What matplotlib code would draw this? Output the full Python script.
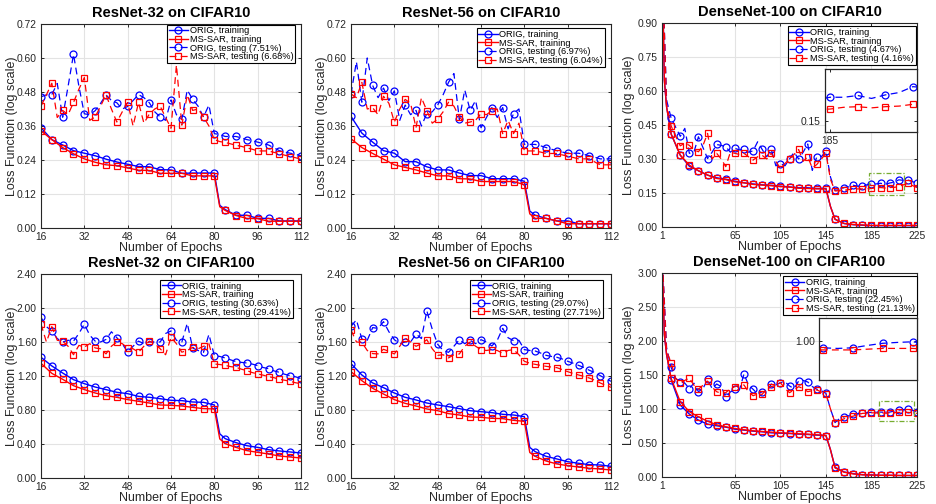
import numpy as np
import matplotlib.pyplot as plt
from matplotlib.patches import Rectangle

plt.rcParams['font.family'] = ['Liberation Sans', 'DejaVu Sans']

# ---------------- epochs ----------------
res_epochs = np.arange(16, 113, 4)        # ResNet marker epochs
res_mid_epochs = np.arange(18, 111, 4)    # between markers (testing curves)
res_drop_epochs = [82]                    # learning-rate drop
dense_epochs = np.arange(1, 226, 8)       # DenseNet marker epochs
dense_mid_epochs = np.arange(5, 222, 8)
dense_extra_epochs = [3, 5, 149]

# ---------------- ResNet-32 / CIFAR10 ----------------
r32c10_orig_train = [0.354, 0.312, 0.293, 0.273, 0.264, 0.255, 0.243, 0.233, 0.225, 0.217, 0.216, 0.206, 0.205,
                     0.193, 0.194, 0.194, 0.194, 0.065, 0.045, 0.045, 0.034, 0.034, 0.025, 0.025, 0.025]
r32c10_sar_train = [0.343, 0.312, 0.284, 0.262, 0.244, 0.232, 0.223, 0.220, 0.212, 0.204, 0.203, 0.193, 0.193,
                    0.193, 0.184, 0.184, 0.184, 0.062, 0.044, 0.034, 0.033, 0.024, 0.024, 0.024, 0.024]
r32c10_drop = [[0.080], [0.075]]
r32c10_orig_test = [0.463, 0.471, 0.391, 0.613, 0.403, 0.414, 0.470, 0.442, 0.429, 0.471, 0.442, 0.392, 0.452,
                    0.384, 0.454, 0.392, 0.333, 0.323, 0.323, 0.312, 0.303, 0.293, 0.273, 0.264, 0.255]
r32c10_orig_test_mid = [0.47, 0.51, 0.50, 0.50, 0.40, 0.44, 0.45, 0.42, 0.45, 0.46, 0.41, 0.38, 0.40, 0.487,
                        0.43, 0.434, 0.33, 0.323, 0.318, 0.308, 0.298, 0.283, 0.268, 0.26]
r32c10_sar_test = [0.430, 0.511, 0.415, 0.443, 0.531, 0.392, 0.470, 0.374, 0.443, 0.443, 0.402, 0.430, 0.352,
                   0.363, 0.415, 0.392, 0.312, 0.302, 0.292, 0.283, 0.272, 0.272, 0.262, 0.252, 0.243]
r32c10_sar_test_mid = [0.47, 0.39, 0.40, 0.49, 0.38, 0.43, 0.42, 0.41, 0.36, 0.37, 0.42, 0.39, 0.575, 0.47,
                       0.42, 0.36, 0.305, 0.297, 0.288, 0.278, 0.272, 0.267, 0.257, 0.248]

# ---------------- ResNet-56 / CIFAR10 ----------------
r56c10_orig_train = [0.394, 0.335, 0.303, 0.273, 0.264, 0.234, 0.234, 0.216, 0.205, 0.205, 0.194, 0.185, 0.185,
                     0.174, 0.174, 0.174, 0.165, 0.045, 0.034, 0.025, 0.025, 0.015, 0.015, 0.015, 0.015]
r56c10_sar_train = [0.315, 0.284, 0.263, 0.243, 0.223, 0.214, 0.205, 0.194, 0.184, 0.184, 0.174, 0.173, 0.164,
                    0.164, 0.164, 0.164, 0.153, 0.034, 0.034, 0.025, 0.015, 0.015, 0.015, 0.015, 0.015]
r56c10_drop = [[0.060], [0.050]]
r56c10_orig_test = [0.473, 0.444, 0.503, 0.494, 0.484, 0.434, 0.415, 0.404, 0.434, 0.514, 0.383, 0.415, 0.354,
                    0.425, 0.425, 0.404, 0.295, 0.295, 0.284, 0.273, 0.264, 0.264, 0.255, 0.244, 0.244]
r56c10_orig_test_mid = [0.587, 0.60, 0.46, 0.45, 0.38, 0.40, 0.36, 0.41, 0.47, 0.545, 0.487, 0.45, 0.39, 0.39,
                        0.35, 0.42, 0.295, 0.29, 0.278, 0.268, 0.264, 0.26, 0.25, 0.244]
r56c10_sar_test = [0.473, 0.514, 0.424, 0.465, 0.374, 0.454, 0.354, 0.414, 0.384, 0.444, 0.392, 0.374, 0.404,
                   0.414, 0.333, 0.333, 0.272, 0.272, 0.263, 0.263, 0.253, 0.244, 0.244, 0.223, 0.223]
r56c10_sar_test_mid = [0.46, 0.42, 0.40, 0.44, 0.42, 0.44, 0.46, 0.37, 0.41, 0.43, 0.37, 0.38, 0.40, 0.42,
                       0.38, 0.37, 0.272, 0.268, 0.263, 0.258, 0.249, 0.244, 0.233, 0.223]

# ---------------- DenseNet-100 / CIFAR10 ----------------
d100c10_orig_train = [1.20, 0.410, 0.317, 0.268, 0.248, 0.229, 0.217, 0.211, 0.202, 0.195, 0.190, 0.186, 0.184,
                      0.180, 0.177, 0.173, 0.173, 0.170, 0.170, 0.034, 0.015, 0.010, 0.008, 0.006, 0.006, 0.006,
                      0.006, 0.006, 0.006]
d100c10_sar_train = [1.20, 0.410, 0.317, 0.273, 0.248, 0.229, 0.214, 0.209, 0.199, 0.195, 0.188, 0.185, 0.182,
                     0.178, 0.176, 0.171, 0.170, 0.168, 0.168, 0.034, 0.016, 0.011, 0.009, 0.007, 0.007, 0.007,
                     0.007, 0.007, 0.007]
d100c10_extra = [[0.65, 0.53, 0.09], [0.65, 0.53, 0.09]]
d100c10_orig_test = [1.20, 0.48, 0.40, 0.325, 0.398, 0.302, 0.364, 0.354, 0.347, 0.342, 0.336, 0.342, 0.342,
                     0.28, 0.30, 0.30, 0.366, 0.31, 0.335, 0.162, 0.174, 0.184, 0.181, 0.190, 0.193, 0.194,
                     0.208, 0.207, 0.193]
d100c10_orig_test_mid = [0.56, 0.44, 0.435, 0.33, 0.35, 0.33, 0.36, 0.33, 0.34, 0.33, 0.376, 0.31, 0.27, 0.27,
                         0.33, 0.33, 0.25, 0.31, 0.22, 0.165, 0.178, 0.18, 0.186, 0.19, 0.188, 0.198, 0.206, 0.20]
d100c10_sar_test = [1.20, 0.446, 0.358, 0.36, 0.332, 0.413, 0.325, 0.266, 0.325, 0.325, 0.295, 0.316, 0.325,
                    0.258, 0.30, 0.342, 0.31, 0.276, 0.325, 0.159, 0.162, 0.167, 0.168, 0.170, 0.174, 0.174,
                    0.178, 0.192, 0.174]
d100c10_sar_test_mid = [0.54, 0.40, 0.37, 0.34, 0.36, 0.30, 0.30, 0.33, 0.32, 0.31, 0.31, 0.30, 0.29, 0.28,
                        0.32, 0.29, 0.26, 0.30, 0.21, 0.16, 0.165, 0.168, 0.169, 0.173, 0.172, 0.175, 0.186, 0.183]

# ---------------- ResNet-32 / CIFAR100 ----------------
r32c100_orig_train = [1.42, 1.318, 1.235, 1.157, 1.11, 1.07, 1.04, 1.008, 0.992, 0.96, 0.949, 0.933, 0.914,
                      0.91, 0.894, 0.89, 0.859, 0.463, 0.416, 0.38, 0.36, 0.333, 0.318, 0.306, 0.294]
r32c100_sar_train = [1.349, 1.231, 1.161, 1.086, 1.04, 1.0, 0.969, 0.949, 0.922, 0.902, 0.882, 0.859, 0.855,
                     0.847, 0.831, 0.816, 0.812, 0.404, 0.36, 0.322, 0.302, 0.282, 0.259, 0.247, 0.235]
r32c100_drop = [[0.52], [0.46]]
r32c100_orig_test = [1.89, 1.73, 1.60, 1.61, 1.81, 1.61, 1.63, 1.65, 1.48, 1.61, 1.60, 1.60, 1.73, 1.60, 1.529,
                     1.478, 1.439, 1.412, 1.369, 1.353, 1.322, 1.286, 1.243, 1.204, 1.169]
r32c100_orig_test_mid = [1.78, 1.64, 1.62, 1.70, 1.68, 1.60, 1.72, 1.58, 1.55, 1.58, 1.60, 1.70, 1.62, 1.82,
                         1.50, 1.69, 1.43, 1.39, 1.36, 1.34, 1.30, 1.26, 1.22, 1.19]
r32c100_sar_test = [1.81, 1.78, 1.61, 1.45, 1.54, 1.53, 1.46, 1.60, 1.53, 1.48, 1.61, 1.52, 1.655, 1.48, 1.537,
                    1.549, 1.341, 1.325, 1.302, 1.263, 1.224, 1.192, 1.161, 1.137, 1.11]
r32c100_sar_test_mid = [1.60, 1.62, 1.55, 1.56, 1.58, 1.52, 1.55, 1.58, 1.52, 1.55, 1.58, 1.45, 1.58, 1.50,
                        1.52, 1.58, 1.335, 1.31, 1.28, 1.24, 1.21, 1.18, 1.15, 1.12]

# ---------------- ResNet-56 / CIFAR100 ----------------
r56c100_orig_train = [1.345, 1.212, 1.118, 1.063, 1.0, 0.949, 0.918, 0.882, 0.859, 0.839, 0.816, 0.792, 0.78,
                      0.769, 0.749, 0.741, 0.722, 0.31, 0.255, 0.224, 0.192, 0.173, 0.157, 0.153, 0.137]
r56c100_sar_train = [1.251, 1.145, 1.055, 0.988, 0.922, 0.878, 0.847, 0.812, 0.792, 0.757, 0.741, 0.718, 0.714,
                     0.702, 0.698, 0.678, 0.667, 0.255, 0.2, 0.165, 0.145, 0.129, 0.114, 0.106, 0.094]
r56c100_drop = [[0.36], [0.30]]
r56c100_orig_test = [1.784, 1.635, 1.769, 1.839, 1.627, 1.60, 1.694, 1.965, 1.573, 1.478, 1.627, 1.62, 1.627,
                     1.553, 1.761, 1.616, 1.51, 1.494, 1.443, 1.42, 1.373, 1.325, 1.267, 1.204, 1.137]
r56c100_orig_test_mid = [1.86, 1.62, 1.76, 1.72, 1.58, 1.60, 1.64, 1.75, 1.50, 1.55, 1.58, 1.58, 1.60, 1.62,
                         1.65, 1.62, 1.50, 1.47, 1.43, 1.40, 1.35, 1.30, 1.24, 1.17]
r56c100_sar_test = [1.741, 1.596, 1.463, 1.514, 1.459, 1.647, 1.549, 1.627, 1.443, 1.412, 1.459, 1.60, 1.51,
                    1.51, 1.467, 1.51, 1.373, 1.337, 1.314, 1.298, 1.251, 1.212, 1.176, 1.118, 1.067]
r56c100_sar_test_mid = [1.60, 1.50, 1.46, 1.49, 1.55, 1.60, 1.58, 1.52, 1.45, 1.45, 1.55, 1.55, 1.50, 1.50,
                        1.50, 1.45, 1.35, 1.325, 1.305, 1.275, 1.23, 1.195, 1.15, 1.09]

# ---------------- DenseNet-100 / CIFAR100 ----------------
d100c100_orig_train = [3.3, 1.43, 1.058, 0.925, 0.836, 0.777, 0.753, 0.733, 0.703, 0.689, 0.674, 0.664, 0.649,
                       0.644, 0.639, 0.63, 0.625, 0.615, 0.61, 0.143, 0.074, 0.049, 0.034, 0.030, 0.025, 0.025,
                       0.022, 0.022, 0.022]
d100c100_sar_train = [3.3, 1.45, 1.107, 0.96, 0.885, 0.82, 0.767, 0.738, 0.713, 0.694, 0.679, 0.669, 0.659,
                      0.649, 0.644, 0.635, 0.63, 0.62, 0.61, 0.133, 0.07, 0.045, 0.032, 0.028, 0.025, 0.025,
                      0.022, 0.022, 0.022]
d100c100_extra = [[2.1, 1.8, 0.40], [2.1, 1.8, 0.40]]
d100c100_orig_test = [3.3, 1.61, 1.40, 1.30, 1.254, 1.436, 1.367, 1.18, 1.29, 1.515, 1.29, 1.254, 1.367, 1.387,
                      1.338, 1.41, 1.397, 1.29, 1.23, 0.80, 0.885, 0.92, 0.944, 0.95, 0.954, 0.954, 0.984,
                      0.994, 0.96]
d100c100_orig_test_mid = [1.9, 1.45, 1.38, 1.38, 1.30, 1.30, 1.33, 1.25, 1.28, 1.35, 1.22, 1.25, 1.35, 1.40,
                          1.30, 1.42, 1.33, 1.27, 1.0, 0.86, 0.90, 0.93, 0.945, 0.952, 0.95, 0.97, 0.99, 0.98]
d100c100_sar_test = [3.3, 1.68, 1.387, 1.455, 1.29, 1.41, 1.254, 1.24, 1.328, 1.353, 1.195, 1.215, 1.328,
                     1.387, 1.24, 1.328, 1.254, 1.28, 1.22, 0.80, 0.856, 0.895, 0.935, 0.944, 0.94, 0.94,
                     0.95, 0.95, 0.935]
d100c100_sar_test_mid = [1.85, 1.45, 1.42, 1.35, 1.35, 1.32, 1.23, 1.30, 1.35, 1.25, 1.22, 1.30, 1.35, 1.30,
                         1.28, 1.30, 1.27, 1.25, 1.0, 0.83, 0.88, 0.915, 0.94, 0.942, 0.94, 0.945, 0.95, 0.945]

BLUE = (0, 0, 1)
RED = (1, 0, 0)
DARK = '#262626'


def merge(ep_a, val_a, ep_b, val_b):
    x = np.concatenate([ep_a, ep_b]).astype(float)
    y = np.concatenate([val_a, val_b]).astype(float)
    order = np.argsort(x, kind='stable')
    x, y = x[order], y[order]
    marks = list(np.where(np.isin(x, ep_a))[0])
    return x, y, marks


def style_axes(ax, xlim, xticks, ylim, yticks):
    ax.set_xlim(*xlim)
    ax.set_ylim(*ylim)
    ax.set_xticks(xticks)
    ax.set_yticks(yticks)
    ax.set_yticklabels(['%.2f' % v for v in yticks])
    ax.grid(True, color='#e3e3e3', lw=0.8)
    ax.set_axisbelow(True)
    ax.tick_params(direction='in', top=True, right=True, length=2.5, width=0.7,
                   labelsize=7.4, colors=DARK, pad=3)
    for s in ax.spines.values():
        s.set_color(DARK)
        s.set_linewidth(0.8)


def draw_tests(ax, tests):
    for (x, y, m), col, mk, lab in tests:
        ax.plot(x, y, color=col, ls=(0, (5.5, 3.5)), lw=0.9, marker=mk, markevery=m,
                ms=5.0, mfc='none', mew=0.9, label=lab)


panels = [
    dict(title='ResNet-32 on CIFAR10', dense=False, err=('7.51', '6.68'),
         train=(r32c10_orig_train, r32c10_sar_train), extra=r32c10_drop,
         test=(r32c10_orig_test, r32c10_orig_test_mid, r32c10_sar_test, r32c10_sar_test_mid),
         ylim=(0, 0.72), yticks=np.arange(0, 0.73, 0.12), leg=(0.977, 0.997)),
    dict(title='ResNet-56 on CIFAR10', dense=False, err=('6.97', '6.04'),
         train=(r56c10_orig_train, r56c10_sar_train), extra=r56c10_drop,
         test=(r56c10_orig_test, r56c10_orig_test_mid, r56c10_sar_test, r56c10_sar_test_mid),
         ylim=(0, 0.72), yticks=np.arange(0, 0.73, 0.12), leg=(0.977, 0.980)),
    dict(title='DenseNet-100 on CIFAR10', dense=True, err=('4.67', '4.16'),
         train=(d100c10_orig_train, d100c10_sar_train), extra=d100c10_extra,
         test=(d100c10_orig_test, d100c10_orig_test_mid, d100c10_sar_test, d100c10_sar_test_mid),
         ylim=(0, 0.9), yticks=np.arange(0, 0.91, 0.15), leg=(0.996, 0.985),
         inset=dict(rect=[0.8814, 0.7381, 0.0983, 0.125], xlim=(183.5, 210.2), ylim=(0.131, 0.238),
                    xticks=[185], yticks=[0.15], box=(182.8, 0.141, 31.0, 0.096))),
    dict(title='ResNet-32 on CIFAR100', dense=False, err=('30.63', '29.41'),
         train=(r32c100_orig_train, r32c100_sar_train), extra=r32c100_drop,
         test=(r32c100_orig_test, r32c100_orig_test_mid, r32c100_sar_test, r32c100_sar_test_mid),
         ylim=(0, 2.4), yticks=np.arange(0, 2.41, 0.4), leg=(0.970, 0.971)),
    dict(title='ResNet-56 on CIFAR100', dense=False, err=('29.07', '27.71'),
         train=(r56c100_orig_train, r56c100_sar_train), extra=r56c100_drop,
         test=(r56c100_orig_test, r56c100_orig_test_mid, r56c100_sar_test, r56c100_sar_test_mid),
         ylim=(0, 2.4), yticks=np.arange(0, 2.41, 0.4), leg=(0.970, 0.971)),
    dict(title='DenseNet-100 on CIFAR100', dense=True, err=('22.45', '21.13'),
         train=(d100c100_orig_train, d100c100_sar_train), extra=d100c100_extra,
         test=(d100c100_orig_test, d100c100_orig_test_mid, d100c100_sar_test, d100c100_sar_test_mid),
         ylim=(0, 3.0), yticks=np.arange(0, 3.01, 0.5), leg=(0.999, 0.985),
         inset=dict(rect=[0.8753, 0.246, 0.1041, 0.1224], xlim=(192.1, 218.1), ylim=(0.74, 1.15),
                    xticks=[], yticks=[1.0], box=(192.0, 0.83, 30.0, 0.29))),
]

axes_rects = [
    [0.0438, 0.5476, 0.2778, 0.4048], [0.3750, 0.5476, 0.2778, 0.4048], [0.7073, 0.5496, 0.2724, 0.4048],
    [0.0438, 0.0516, 0.2778, 0.4048], [0.3750, 0.0516, 0.2778, 0.4048], [0.7073, 0.0536, 0.2724, 0.4048],
]

fig = plt.figure(figsize=(9.36, 5.04), dpi=100)

for p, rect in zip(panels, axes_rects):
    ax = fig.add_axes(rect)
    if p['dense']:
        ep, ep_mid, ep_extra = dense_epochs, dense_mid_epochs, dense_extra_epochs
        xlim, xticks = (1, 225), [1, 65, 105, 145, 185, 225]
    else:
        ep, ep_mid, ep_extra = res_epochs, res_mid_epochs, res_drop_epochs
        xlim, xticks = (16, 112), np.arange(16, 113, 16)

    o_tr = merge(ep, p['train'][0], ep_extra, p['extra'][0])
    s_tr = merge(ep, p['train'][1], ep_extra, p['extra'][1])
    ax.plot(o_tr[0], o_tr[1], color=BLUE, lw=1.0, marker='o', markevery=o_tr[2],
            ms=5.0, mfc='none', mew=0.9, label='ORIG, training')
    ax.plot(s_tr[0], s_tr[1], color=RED, lw=1.0, marker='s', markevery=s_tr[2],
            ms=4.6, mfc='none', mew=0.9, label='MS-SAR, training')

    o_te = merge(ep, p['test'][0], ep_mid, p['test'][1])
    s_te = merge(ep, p['test'][2], ep_mid, p['test'][3])
    tests = [(o_te, BLUE, 'o', 'ORIG, testing (%s%%)' % p['err'][0]),
             (s_te, RED, 's', 'MS-SAR, testing (%s%%)' % p['err'][1])]
    draw_tests(ax, tests)

    style_axes(ax, xlim, xticks, p['ylim'], p['yticks'])
    ax.set_title(p['title'], fontsize=10.5, fontweight='bold', color='black', pad=5)
    ax.set_xlabel('Number of Epochs', fontsize=9, color=DARK, labelpad=0)
    ax.set_ylabel('Loss Function (log scale)', fontsize=9, color=DARK)
    ax.yaxis.set_label_coords(-0.106 if p['dense'] else -0.088, 0.5)

    leg = ax.legend(loc='upper right', bbox_to_anchor=p['leg'], borderaxespad=0, fontsize=6.7,
                    frameon=True, fancybox=False, framealpha=1, edgecolor='black',
                    handlelength=2.1, handletextpad=0.15, labelspacing=-0.04, borderpad=0.2)
    leg.get_frame().set_linewidth(0.8)

    if 'inset' in p:
        ins = p['inset']
        bx = ins['box']
        ax.add_patch(Rectangle((bx[0], bx[1]), bx[2], bx[3], fill=False, ec='#77AC30',
                               ls=(0, (4, 1.5, 1, 1.5)), lw=0.9, zorder=5))
        iax = fig.add_axes(ins['rect'])
        draw_tests(iax, tests)
        iax.set_xlim(*ins['xlim'])
        iax.set_ylim(*ins['ylim'])
        iax.set_xticks(ins['xticks'])
        iax.set_yticks(ins['yticks'])
        iax.set_yticklabels(['%.2f' % v for v in ins['yticks']])
        iax.tick_params(direction='in', top=True, right=True, length=2.5, width=0.7,
                        labelsize=7.4, colors=DARK, pad=3)
        for s in iax.spines.values():
            s.set_color(DARK)
            s.set_linewidth(0.9)

fig.savefig('out.png', dpi=100, facecolor='white')
